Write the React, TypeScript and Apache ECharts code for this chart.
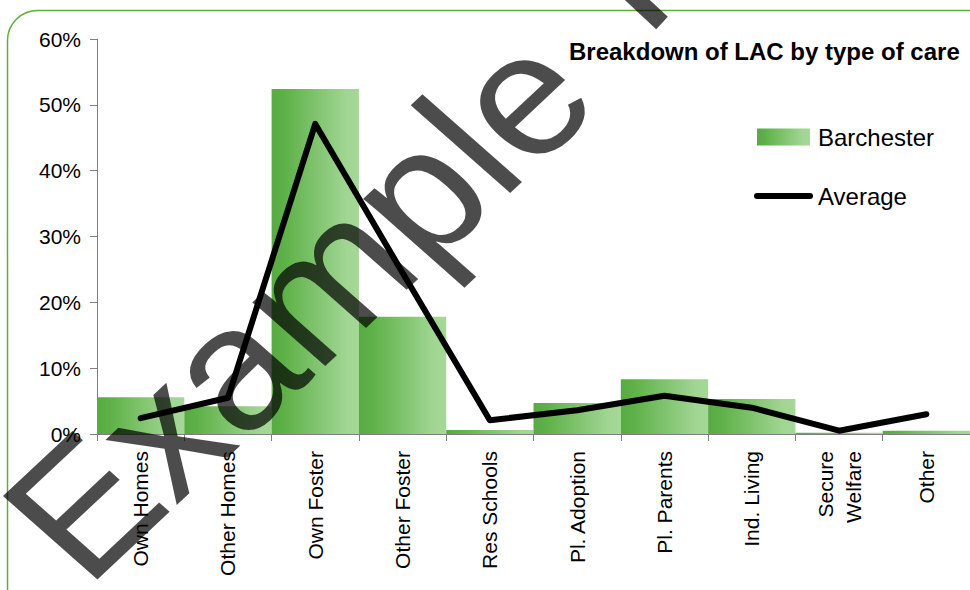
import React, { useEffect, useRef } from "react";
import * as echarts from "echarts";

const categories = [
  "Own Homes",
  "Other Homes",
  "Own Foster",
  "Other Foster",
  "Res Schools",
  "Pl. Adoption",
  "Pl. Parents",
  "Ind. Living",
  "Secure\nWelfare",
  "Other",
];
const barchester = [5.6, 4.2, 52.4, 17.8, 0.6, 4.7, 8.3, 5.3, 0.2, 0.5];
const average = [2.4, 5.5, 47.1, 24.5, 2.1, 3.6, 5.8, 4.0, 0.5, 3.0];
const yTicks = [0, 10, 20, 30, 40, 50, 60];

const FONT = "'Liberation Sans', Arial, sans-serif";

export default function App() {
  const ref = useRef<HTMLDivElement>(null);
  useEffect(() => {
    if (!ref.current) return;
    const chart = echarts.init(ref.current, null, { renderer: "svg" });
    const barGrad = new echarts.graphic.LinearGradient(0, 0, 1, 0, [
      { offset: 0, color: "#58ab42" },
      { offset: 0.15, color: "#5eb148" },
      { offset: 0.85, color: "#a0d592" },
      { offset: 1, color: "#a5d898" },
    ]);
    chart.setOption({
      animation: false,
      backgroundColor: "#ffffff",
      textStyle: { fontFamily: FONT },
      title: {
        text: "Breakdown of LAC by type of care",
        left: 569,
        top: 39,
        padding: 0,
        textStyle: { fontFamily: FONT, fontSize: 24, fontWeight: "bold", color: "#000" },
      },
      legend: {
        orient: "vertical",
        left: 754,
        top: 125,
        padding: 0,
        itemGap: 35,
        itemWidth: 53,
        itemHeight: 17,
        textStyle: { fontFamily: FONT, fontSize: 24, lineHeight: 24, color: "#000", padding: [0, 0, 0, 3] },
        data: [
          { name: "Barchester", icon: "rect" },
          {
            name: "Average",
            itemStyle: { opacity: 0 },
            lineStyle: { width: 6, cap: "round", color: "#000" },
          },
        ],
      },
      grid: { left: 97, right: 0, top: 39, bottom: 156, containLabel: false },
      xAxis: {
        type: "category",
        data: categories,
        boundaryGap: true,
        axisLine: { show: true, lineStyle: { color: "#7f7f7f", width: 1 } },
        axisTick: { show: true, length: 7, alignWithLabel: false, lineStyle: { color: "#7f7f7f" } },
        axisLabel: {
          rotate: 90,
          interval: 0,
          margin: 17,
          fontFamily: FONT,
          fontSize: 21,
          lineHeight: 28,
          color: "#000",
        },
        splitLine: { show: false },
      },
      yAxis: {
        type: "value",
        min: 0,
        max: 60,
        interval: 10,
        axisLine: { show: true, lineStyle: { color: "#7f7f7f", width: 1 } },
        axisTick: { show: true, length: 7, lineStyle: { color: "#7f7f7f" } },
        axisLabel: {
          margin: 16,
          fontFamily: FONT,
          fontSize: 21,
          color: "#000",
          formatter: (v: number) => (yTicks.includes(v) ? `${v}%` : ""),
        },
        splitLine: { show: false },
      },
      series: [
        {
          name: "Barchester",
          type: "bar",
          data: barchester,
          barCategoryGap: "0%",
          itemStyle: { color: barGrad },
          z: 2,
        },
        {
          name: "Average",
          type: "line",
          data: average,
          symbol: "none",
          lineStyle: { color: "#000", width: 6, cap: "round", join: "round" },
          itemStyle: { color: "#000" },
          z: 3,
        },
      ],
      graphic: [
        {
          type: "rect",
          shape: { x: 7.5, y: 10.5, width: 1100, height: 1100, r: 30 },
          style: { fill: "none", stroke: "#5cb036", lineWidth: 1.5 },
          z: 1,
          silent: true,
        },
        {
          type: "group",
          x: 298,
          y: 305,
          scaleX: 1.1,
          z: 100,
          silent: true,
          children: [
            {
              type: "text",
              x: 0,
              y: 0,
              rotation: 0.8,
              z: 100,
              silent: true,
              style: {
                text: "Example",
                fontFamily: FONT,
                fontSize: 174,
                fill: "rgba(0,0,0,0.7)",
                textAlign: "center",
                textVerticalAlign: "middle",
              },
            },
          ],
        },
        {
          type: "polygon",
          z: 100,
          silent: true,
          shape: {
            points: [
              [656.2, 29.2],
              [667.8, 16.8],
              [623.9, -24.1],
              [612.3, -11.7],
            ],
          },
          style: { fill: "rgba(0,0,0,0.7)" },
        },
      ],
    });
    return () => chart.dispose();
  }, []);
  return (
    <div
      ref={ref}
      style={{ position: "fixed", left: 0, top: 0, width: 970, height: 590 }}
    />
  );
}
